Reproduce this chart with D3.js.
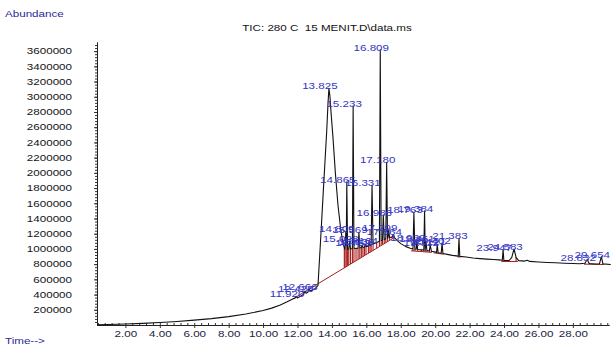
<!DOCTYPE html>
<html>
<head>
<meta charset="utf-8">
<script src="https://cdn.jsdelivr.net/npm/d3@7"></script>
<style>
  html, body { margin: 0; padding: 0; background: #fff; }
  svg { display: block; font-family: "Liberation Sans", Arial, sans-serif; }
  text { white-space: pre; }
</style>
</head>
<body>
<svg id="chart" width="614" height="349"></svg>
<script>
// ---- Data: total ion chromatogram, [retention time (min), abundance] ----
const tic = [
  [0.35, 2000], [1, 6000], [2, 14000], [3, 22000], [4, 33000], [5, 47000],
  [6, 64000], [7, 84000], [8, 110000], [9, 145000], [10, 190000], [10.5, 222000],
  [11, 262000], [11.4, 305000], [11.75, 345000], [11.85, 352000], [11.92, 378000],
  [11.99, 356000], [12.2, 380000], [12.35, 400000], [12.426, 445000], [12.5, 418000],
  [12.6, 430000], [12.666, 472000], [12.74, 448000], [12.9, 462000], [13.05, 485000],
  [13.19, 520000], [13.3, 950000], [13.4, 1350000], [13.5, 1760000], [13.6, 2160000],
  [13.7, 2560000], [13.77, 2900000], [13.825, 3110000], [13.88, 3020000], [13.96, 2760000],
  [14.06, 2470000], [14.2, 2000000], [14.35, 1580000], [14.5, 1280000], [14.62, 1100000],
  [14.72, 1010000], [14.76, 995000], [14.809, 1230000], [14.835, 1050000], [14.865, 1880000],
  [14.91, 1000000], [14.98, 995000], [15.028, 1100000], [15.08, 1000000], [15.19, 1005000],
  [15.233, 2880000], [15.28, 1010000], [15.4, 1005000], [15.52, 1010000], [15.569, 1220000],
  [15.62, 1015000], [15.71, 1015000], [15.752, 1050000], [15.8, 1020000], [15.89, 1025000],
  [15.936, 1065000], [15.98, 1030000], [16.12, 1040000], [16.164, 1080000], [16.21, 1045000],
  [16.28, 1055000], [16.331, 1840000], [16.39, 1065000], [16.6, 1085000], [16.76, 1100000],
  [16.809, 3620000], [16.86, 1110000], [16.94, 1115000], [16.986, 1450000], [17.04, 1125000],
  [17.13, 1135000], [17.18, 2140000], [17.23, 1140000], [17.26, 1145000], [17.299, 1250000],
  [17.35, 1150000], [17.5, 1155000], [17.564, 1190000], [17.63, 1150000], [17.8, 1110000],
  [18.0, 1070000], [18.3, 1030000], [18.55, 1010000], [18.71, 1000000], [18.763, 1480000],
  [18.82, 1000000], [18.9, 995000], [18.939, 1120000], [18.98, 993000], [19.2, 988000],
  [19.34, 985000], [19.384, 1500000], [19.42, 983000], [19.461, 1100000], [19.52, 980000],
  [19.66, 975000], [19.712, 1050000], [19.78, 970000], [19.95, 962000], [20.08, 955000],
  [20.121, 1060000], [20.17, 950000], [20.35, 944000], [20.402, 1080000], [20.45, 940000],
  [20.7, 928000], [21.0, 915000], [21.34, 905000], [21.383, 1140000], [21.43, 902000],
  [21.8, 893000], [22.2, 880000], [22.6, 872000], [23.0, 866000], [23.4, 860000],
  [23.7, 856000], [23.9, 852000], [23.947, 990000], [23.99, 850000], [24.3, 848000],
  [24.45, 890000], [24.583, 1000000], [24.7, 890000], [24.85, 846000], [25.2, 840000],
  [25.35, 852000], [25.5, 836000], [26.0, 828000], [26.5, 822000], [27.0, 818000],
  [27.5, 812000], [28.0, 808000], [28.4, 805000], [28.7, 812000], [28.832, 860000],
  [28.95, 808000], [29.3, 802000], [29.55, 806000], [29.654, 900000], [29.75, 804000],
  [30.2, 795000]
];

// Retention times of the labelled peaks
const peakTimes = [
  11.920, 12.426, 12.666, 13.825, 14.809, 14.865, 15.028, 15.233, 15.569, 15.752,
  15.936, 16.164, 16.331, 16.809, 16.986, 17.180, 17.299, 17.564, 18.763, 18.939,
  19.384, 19.461, 19.712, 20.121, 20.402, 21.383, 23.947, 24.583, 28.832, 29.654
];

// Integration baselines: [start time, start abundance, end time, end abundance]
const baselines = [
  [11.75, 345000, 17.63, 1150000],
  [18.6, 975000, 19.8, 955000],
  [19.9, 950000, 20.5, 930000],
  [21.3, 895000, 21.5, 895000],
  [23.85, 835000, 24.8, 835000],
  [28.65, 800000, 29.8, 795000]
];

// Peak boundary drop-line times
const dropTimes = [
  14.72, 14.76, 14.835, 14.91, 14.98, 15.08, 15.19, 15.28, 15.4, 15.52, 15.62, 15.71,
  15.8, 15.89, 15.98, 16.12, 16.21, 16.28, 16.39, 16.6, 16.76, 16.86, 16.94, 17.04,
  17.13, 17.23, 17.35, 17.5, 17.63,
  18.71, 18.82, 18.98, 19.2, 19.34, 19.42, 19.52, 19.66, 19.78,
  20.08, 20.17, 20.35, 20.45, 21.34, 21.43, 23.9, 23.99, 24.7, 28.7, 28.95, 29.55, 29.75
];

// Axis tick values
const xTickValues = [2, 4, 6, 8, 10, 12, 14, 16, 18, 20, 22, 24, 26, 28];
const yTickValues = [200000, 400000, 600000, 800000, 1000000, 1200000, 1400000, 1600000,
  1800000, 2000000, 2200000, 2400000, 2600000, 2800000, 3000000, 3200000, 3400000, 3600000];

const titleText = "TIC: 280 C  15 MENIT.D\\data.ms";

// ---- Drawing ----
const SX = 1.35;          // horizontal stretch applied to all text
const FONT = 8.6;
const svg = d3.select("#chart");
svg.append("rect").attr("width", 614).attr("height", 349).attr("fill", "#fff");

const x = d3.scaleLinear().domain([0.35, 30.1]).range([97, 609]);
const y = d3.scaleLinear().domain([0, 3720000]).range([325, 42]);

function label(parent, px, py, str, anchor, color) {
  return parent.append("text")
    .attr("transform", `translate(${px},${py}) scale(${SX},1)`)
    .attr("text-anchor", anchor)
    .attr("font-size", FONT)
    .attr("fill", color)
    .text(str);
}

// Trace value at an arbitrary time (linear between recorded points)
function traceAt(t) {
  const i = d3.bisector(d => d[0]).left(tic, t);
  if (i <= 0) return tic[0][1];
  if (i >= tic.length) return tic[tic.length - 1][1];
  const a = tic[i - 1], b = tic[i];
  if (b[0] === t) return b[1];
  return a[1] + (b[1] - a[1]) * (t - a[0]) / (b[0] - a[0]);
}

// Titles
label(svg, 5, 17, "Abundance", "start", "#2a2a96");
label(svg, 327, 31, titleText, "middle", "#111");
label(svg, 5, 344, "Time-->", "start", "#2a2a96");

// Axes
const gx = svg.append("g").attr("transform", "translate(0,325)");
gx.call(d3.axisBottom(x).tickValues(d3.range(0.4, 30.05, 0.4)).tickSize(-2).tickSizeOuter(0).tickFormat(""));
gx.append("g").call(d3.axisBottom(x).tickValues(xTickValues).tickSize(3).tickSizeOuter(0)
  .tickFormat(d3.format(".2f")));
gx.selectAll("path.domain").attr("stroke", "#222").attr("stroke-width", 1);
gx.selectAll(".tick line").attr("stroke", "#333");
gx.selectAll(".tick text")
  .attr("font-family", null).attr("font-size", FONT).attr("fill", "#1c1c40")
  .attr("y", 6).attr("dy", "0.71em")
  .attr("transform", `scale(${SX},1)`);
gx.attr("font-family", null);
gx.selectAll("g").attr("font-family", null);

const gy = svg.append("g").attr("transform", "translate(97,0)");
gy.call(d3.axisLeft(y).tickValues(d3.range(40000, 3720000, 40000)).tickSize(2).tickSizeOuter(0).tickFormat(""));
gy.append("g").call(d3.axisLeft(y).tickValues(yTickValues).tickSize(3).tickSizeOuter(0)
  .tickFormat(d3.format("d")));
gy.selectAll("path.domain").attr("stroke", "#222").attr("stroke-width", 1);
gy.selectAll(".tick line").attr("stroke", "#333");
gy.selectAll(".tick text")
  .attr("font-size", FONT).attr("fill", "#151515")
  .attr("x", -25 / SX).attr("dy", "0.32em")
  .attr("transform", `scale(${SX},1)`);
gy.attr("font-family", null);
gy.selectAll("g").attr("font-family", null);

// Integration marks (red)
const red = "#a81c1c";
const gi = svg.append("g");
gi.selectAll("line.base").data(baselines).join("line")
  .attr("x1", d => x(d[0])).attr("y1", d => y(d[1]))
  .attr("x2", d => x(d[2])).attr("y2", d => y(d[3]))
  .attr("stroke", red).attr("stroke-width", 1);

function baseAt(t) {
  const s = baselines.find(b => t >= b[0] - 1e-9 && t <= b[2] + 1e-9);
  if (!s) return null;
  return s[1] + (s[3] - s[1]) * (t - s[0]) / (s[2] - s[0]);
}
const drops = dropTimes.map(t => ({ t, b: baseAt(t), v: traceAt(t) })).filter(d => d.b !== null);
gi.selectAll("line.drop").data(drops).join("line")
  .attr("x1", d => x(d.t)).attr("x2", d => x(d.t))
  .attr("y1", d => y(d.b)).attr("y2", d => y(d.v))
  .attr("stroke", red).attr("stroke-width", 1.1);

// Chromatogram trace
svg.append("path")
  .datum(tic)
  .attr("d", d3.line().x(d => x(d[0])).y(d => y(d[1])))
  .attr("fill", "none")
  .attr("stroke", "#111")
  .attr("stroke-width", 1.1)
  .attr("stroke-linejoin", "round");

// Peak retention-time labels
const gl = svg.append("g");
peakTimes.forEach(t => {
  const apex = traceAt(t);
  label(gl, x(t) - 9, y(apex) + 1, t.toFixed(3), "middle", "#3434c4");
});
</script>
</body>
</html>
